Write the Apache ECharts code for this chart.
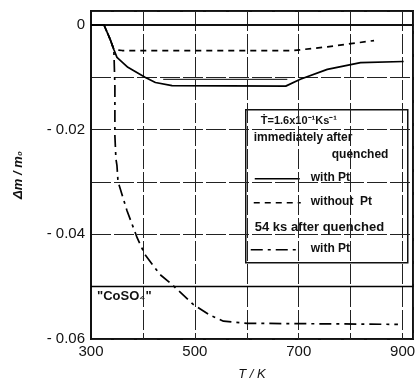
<!DOCTYPE html>
<html>
<head>
<meta charset="utf-8">
<script src="https://cdn.jsdelivr.net/npm/echarts@6/dist/echarts.min.js"></script>
<style>
  html, body { margin: 0; padding: 0; background: #fff; }
  #main { width: 419px; height: 386px; }
</style>
</head>
<body>
<div id="main"></div>
<script>
// 温度 T/K 与质量变化 Δm/m0
var solidT = [300, 325, 337, 344, 350, 371, 404, 424, 456, 675, 703, 755, 819, 902];
var solidM = [0, 0, -0.0028, -0.0047, -0.0062, -0.0081, -0.0100, -0.0110, -0.0116, -0.0117, -0.0104, -0.0085, -0.0072, -0.0070];

var dashT = [300, 325, 337, 344, 360, 500, 690, 755, 845];
var dashM = [0, 0, -0.0028, -0.0047, -0.0049, -0.0049, -0.0049, -0.0042, -0.0030];

var dotT = [300, 325, 337, 344, 346, 346, 348, 350, 352, 369, 389, 404, 433, 456, 497, 530, 555, 601, 891];
var dotM = [0, 0, -0.0028, -0.0047, -0.0117, -0.0212, -0.0256, -0.0269, -0.0299, -0.0354, -0.0407, -0.0439, -0.0477, -0.0496, -0.0534, -0.0555, -0.0566, -0.0570, -0.0572];

// 平台参考线
var plateauT = [439, 678];
var plateauM = [-0.0104, -0.0104];

var cosoLevel = -0.05;
var xLabels = [300, 500, 700, 900];

function pairs(xs, ys) {
  return xs.map(function (x, i) { return [x, ys[i]]; });
}

var chart = echarts.init(document.getElementById('main'), null, { renderer: 'canvas' });
var font = 'Liberation Sans';

var option = {
  animation: false,
  grid: {
    left: 91, right: 6, top: 11, bottom: 44,
    show: true, borderColor: '#111', borderWidth: 2
  },
  xAxis: {
    type: 'value',
    min: 300, max: 920, interval: 100,
    name: 'T / K',
    nameLocation: 'middle',
    nameGap: 29,
    nameTextStyle: { fontFamily: font, fontSize: 13, fontStyle: 'italic', color: '#111' },
    axisLine: { lineStyle: { color: '#111', width: 2 } },
    axisTick: { show: false },
    axisLabel: {
      fontFamily: font, fontSize: 15, color: '#111', margin: 5,
      showMaxLabel: false,
      formatter: function (v) { return xLabels.indexOf(v) >= 0 ? String(v) : ''; }
    },
    splitLine: { show: true, lineStyle: { color: '#222', width: 1, type: [20, 3] } }
  },
  yAxis: {
    type: 'value',
    min: -0.06, max: 0.00265, interval: 0.01,
    name: 'Δm / m₀',
    nameLocation: 'middle',
    nameGap: 66,
    nameTextStyle: { fontFamily: font, fontSize: 13, fontStyle: 'italic', fontWeight: 'bold', color: '#111' },
    axisLine: { lineStyle: { color: '#111', width: 2 } },
    axisTick: { show: false },
    axisLabel: {
      fontFamily: font, fontSize: 15, color: '#111', margin: 6,
      showMaxLabel: false,
      formatter: function (v) {
        var k = Math.round(v * 100);
        if (k === 0) return '0';
        if (k % 2 === 0) return '- ' + Math.abs(k / 100).toFixed(2);
        return '';
      }
    },
    splitLine: { show: true, lineStyle: { color: '#222', width: 1, type: [20, 3] } }
  },
  series: [
    {
      type: 'line', name: 'with Pt', data: pairs(solidT, solidM),
      symbol: 'none', lineStyle: { color: '#000', width: 1.7 },
      markLine: {
        silent: true, symbol: 'none',
        lineStyle: { color: '#000', width: 1.4, type: 'solid' },
        label: { show: false },
        data: [{ yAxis: cosoLevel }]
      }
    },
    {
      type: 'line', name: 'without Pt', data: pairs(dashT, dashM),
      symbol: 'none', lineStyle: { color: '#000', width: 1.7, type: [6, 5] }
    },
    {
      type: 'line', name: '54ks with Pt', data: pairs(dotT, dotM),
      symbol: 'none', lineStyle: { color: '#000', width: 1.7, type: [12, 5, 3, 5] }
    },
    {
      type: 'line', name: 'plateau', data: pairs(plateauT, plateauM),
      symbol: 'none', lineStyle: { color: '#000', width: 1 }
    }
  ],
  graphic: [
    {
      type: 'text', left: 97, top: 290,
      style: { text: '"CoSO₄"', font: 'bold 13px ' + font, fill: '#111' }
    },
    {
      type: 'group', left: 245, top: 109,
      children: [
        { type: 'rect', shape: { x: 0, y: 0, width: 162, height: 153 },
          style: { fill: '#fff', stroke: '#111', lineWidth: 1.5 } },
        { type: 'text', x: 15, y: 6,
          style: { text: 'Ṫ=1.6x10⁻¹Ks⁻¹', font: 'bold 11px ' + font, fill: '#111' } },
        { type: 'text', x: 8, y: 22,
          style: { text: 'immediately after', font: 'bold 12px ' + font, fill: '#111' } },
        { type: 'text', x: 86, y: 39,
          style: { text: 'quenched', font: 'bold 12px ' + font, fill: '#111' } },
        { type: 'line', shape: { x1: 9, y1: 69, x2: 54, y2: 69 },
          style: { stroke: '#000', lineWidth: 1.4 } },
        { type: 'text', x: 65, y: 62,
          style: { text: 'with Pt', font: 'bold 12px ' + font, fill: '#111' } },
        { type: 'line', shape: { x1: 8, y1: 93, x2: 55, y2: 93 },
          style: { stroke: '#000', lineWidth: 1.4, lineDash: [6, 5] } },
        { type: 'text', x: 65, y: 86,
          style: { text: 'without  Pt', font: 'bold 12px ' + font, fill: '#111' } },
        { type: 'text', x: 9, y: 111,
          style: { text: '54 ks after quenched', font: 'bold 13px ' + font, fill: '#111' } },
        { type: 'line', shape: { x1: 5, y1: 140, x2: 55, y2: 140 },
          style: { stroke: '#000', lineWidth: 1.4, lineDash: [12, 5, 3, 5] } },
        { type: 'text', x: 65, y: 133,
          style: { text: 'with Pt', font: 'bold 12px ' + font, fill: '#111' } }
      ]
    }
  ]
};

chart.setOption(option);
</script>
</body>
</html>
